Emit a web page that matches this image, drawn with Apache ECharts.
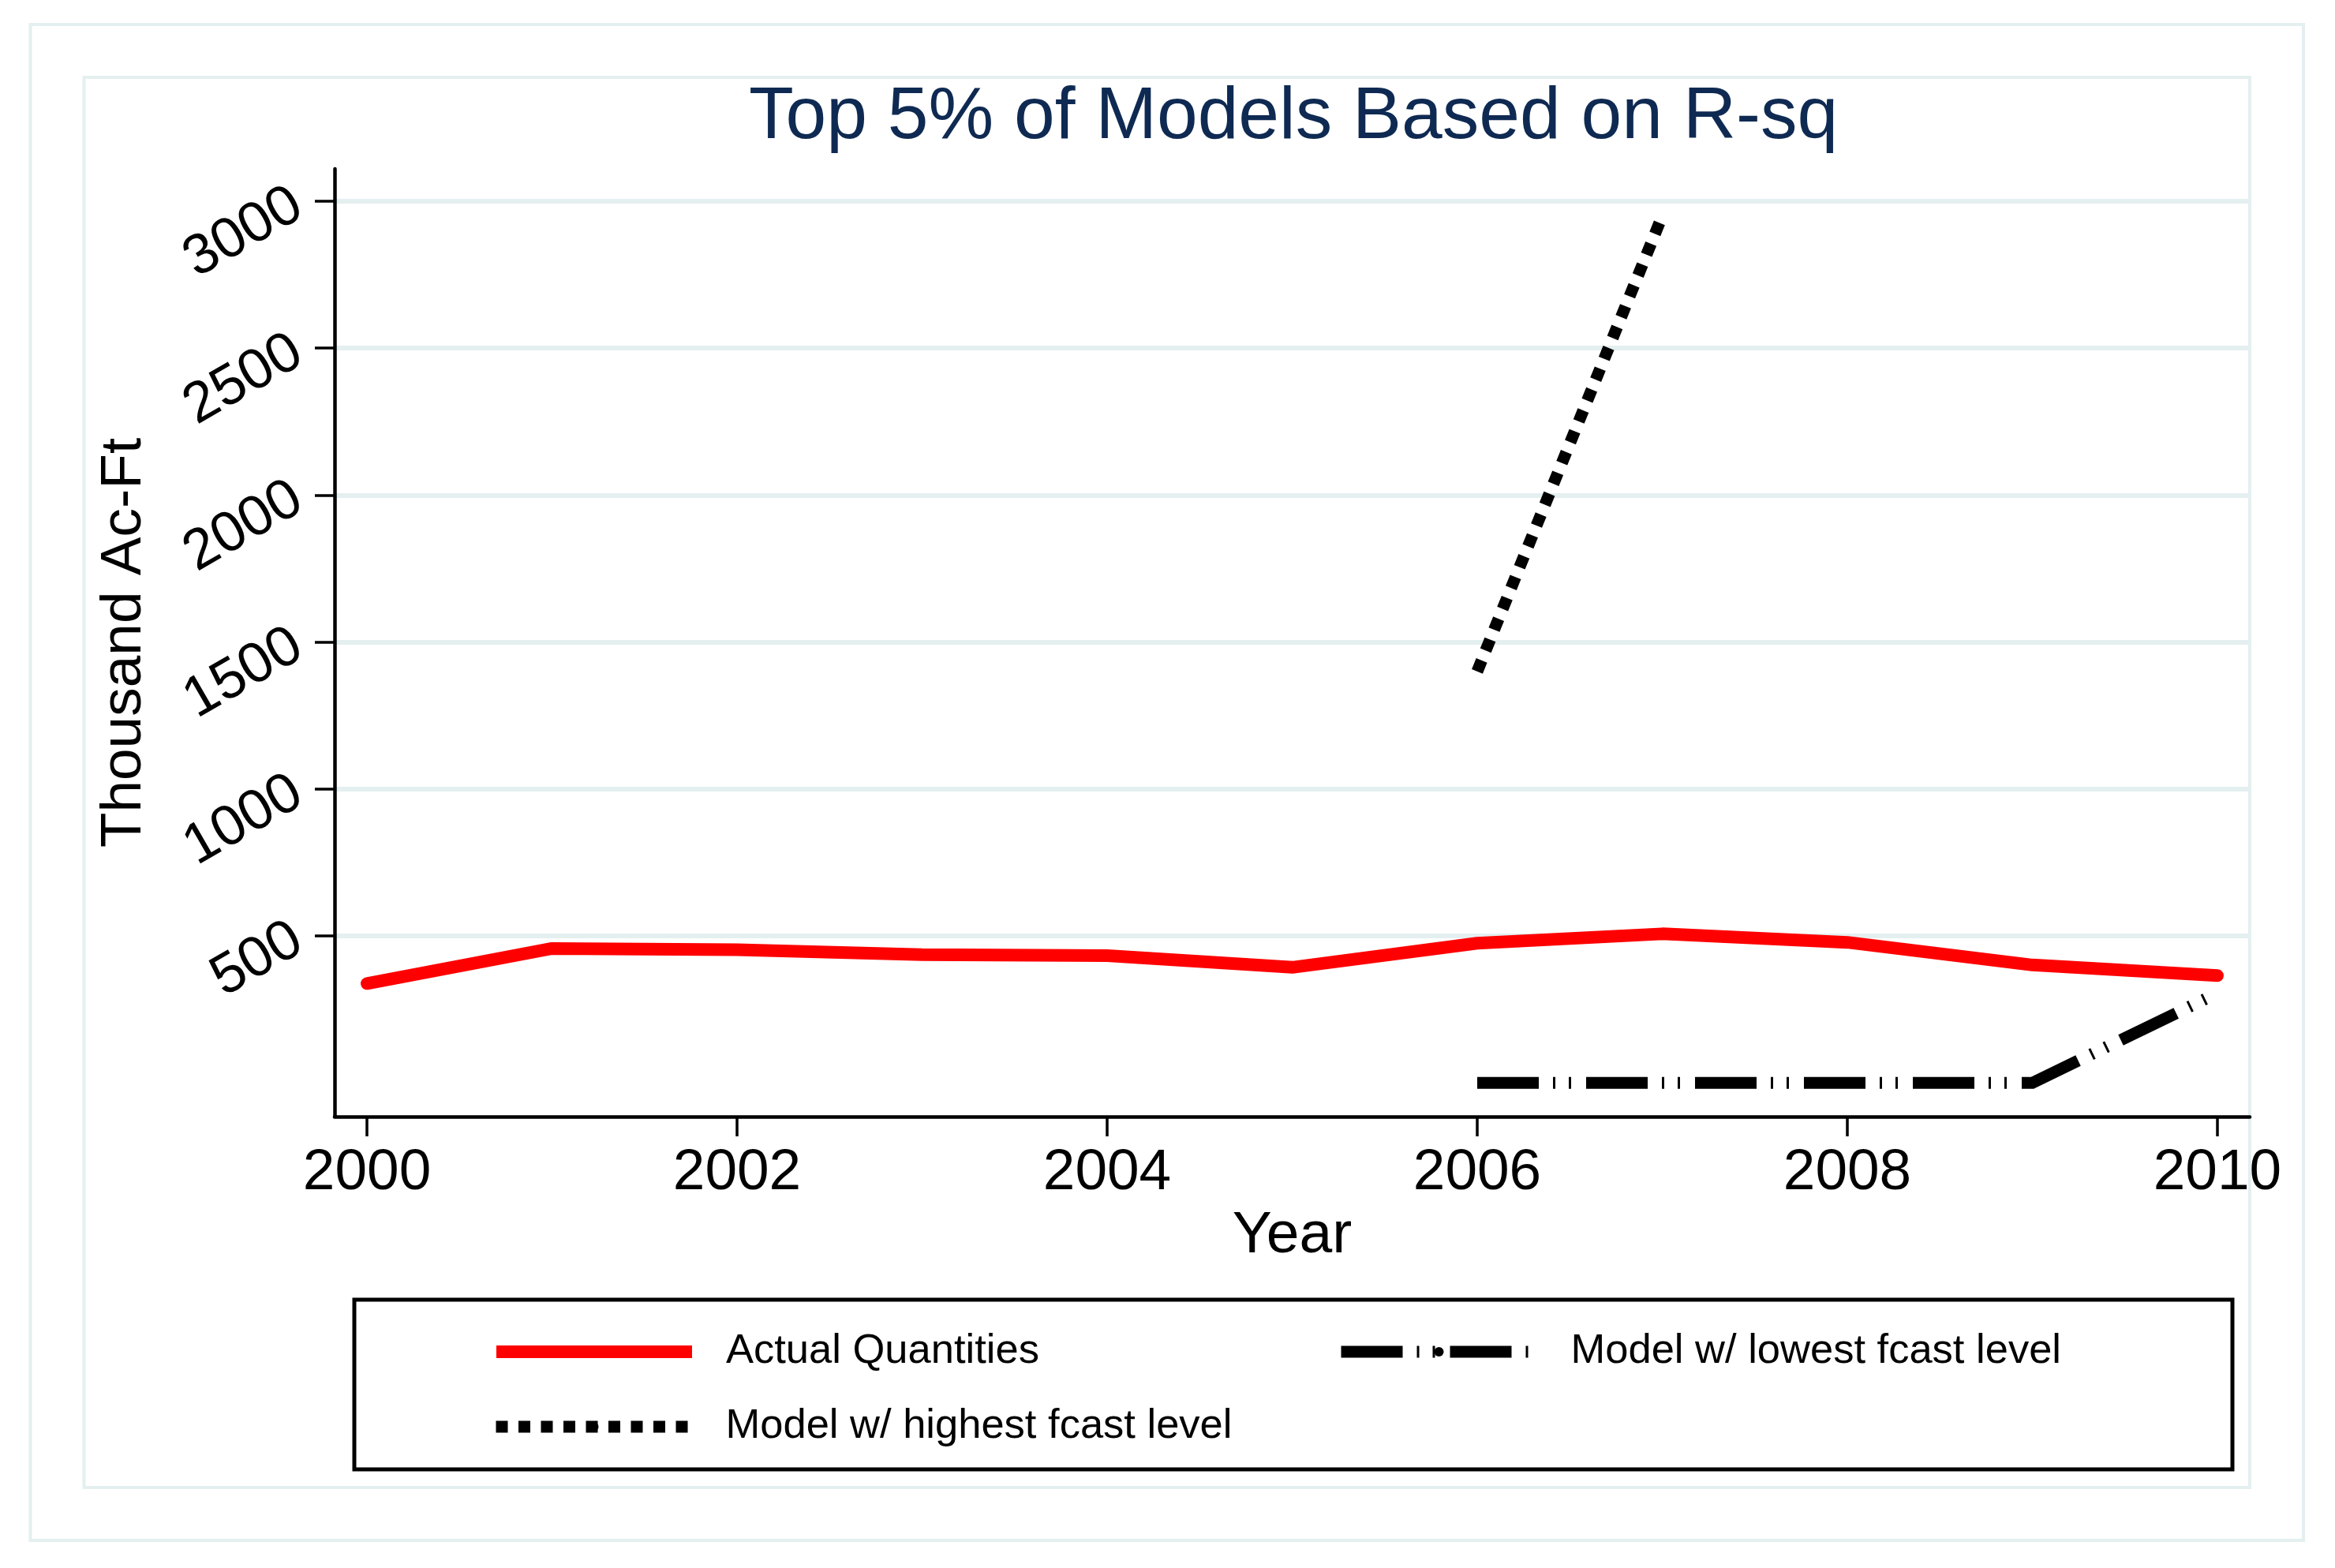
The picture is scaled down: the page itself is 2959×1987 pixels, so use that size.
<!DOCTYPE html>
<html>
<head>
<meta charset="utf-8">
<script src="https://cdn.jsdelivr.net/npm/echarts@6/dist/echarts.min.js"></script>
<style>
html,body{margin:0;padding:0;background:#ffffff;}
#chart{width:2959px;height:1987px;}
</style>
</head>
<body>
<div id="chart"></div>
<script>
// ---- data ----
const years = [2000, 2001, 2002, 2003, 2004, 2005, 2006, 2007, 2008, 2009, 2010];
const actualQuantities = [338, 457, 453, 436, 433, 393, 475, 507, 478, 401, 365];
const lowestYears = [2006, 2007, 2008, 2009, 2010];
const lowestFcast = [0, 0, 0, 0, 305];
const highestYears = [2006, 2007];
const highestFcast = [1400, 2950];
const xTickLabels = [2000, 2002, 2004, 2006, 2008, 2010];
const yTickLabels = [500, 1000, 1500, 2000, 2500, 3000];
const seriesNames = ['Actual Quantities', 'Model w/ lowest fcast level', 'Model w/ highest fcast level'];

// ---- chart ----
const FONT = "'Liberation Sans', Arial, Helvetica, sans-serif";
const FRAME = '#e4eff0';
const chart = echarts.init(document.getElementById('chart'), null, {renderer: 'canvas'});

const pairs = (xs, ys) => xs.map((x, i) => [x, ys[i]]);

const legendCommon = {
  orient: 'horizontal',
  padding: 0,
  itemWidth: 248,
  selectedMode: false,
  textStyle: {fontFamily: FONT, fontSize: 52.5, lineHeight: 60, color: '#000', padding: [0, 0, 0, 38]}
};

const option = {
  backgroundColor: '#ffffff',
  animation: false,
  title: {
    text: 'Top 5% of Models Based on R-sq',
    left: 949,
    top: 103,
    padding: 0,
    textAlign: 'left',
    textStyle: {fontFamily: FONT, fontSize: 93, fontWeight: 'normal', color: '#0f2a52'}
  },
  grid: {left: 424, right: 108, top: 214, bottom: 572, containLabel: false},
  xAxis: {
    type: 'value',
    min: 1999.825,
    max: 2010.175,
    name: 'Year',
    nameLocation: 'middle',
    nameGap: 114,
    nameTextStyle: {fontFamily: FONT, fontSize: 75, color: '#000'},
    axisLine: {show: true, onZero: false, lineStyle: {color: '#000', width: 4.5}},
    axisTick: {show: true, inside: false, length: 25, lineStyle: {color: '#000', width: 3.5}, customValues: xTickLabels},
    axisLabel: {show: true, margin: 35, fontFamily: FONT, fontSize: 73, color: '#000', customValues: xTickLabels, formatter: v => String(v)},
    splitLine: {show: false}
  },
  yAxis: {
    type: 'value',
    min: -115,
    max: 3110,
    name: 'Thousand Ac-Ft',
    nameLocation: 'middle',
    nameRotate: 90,
    nameGap: 230,
    nameTextStyle: {fontFamily: FONT, fontSize: 73, color: '#000'},
    axisLine: {show: true, onZero: false, lineStyle: {color: '#000', width: 4.5}},
    axisTick: {show: true, inside: false, length: 25, lineStyle: {color: '#000', width: 3.5}, customValues: yTickLabels},
    axisLabel: {show: true, rotate: 30, margin: 46, fontFamily: FONT, fontSize: 72, color: '#000', customValues: yTickLabels, formatter: v => String(v)},
    splitLine: {show: true, lineStyle: {color: FRAME, width: 6}}
  },
  legend: [
    Object.assign({}, legendCommon, {data: [seriesNames[0]], left: 621, top: 1683, itemHeight: 16, lineStyle: {width: 16, cap: 'butt'}}),
    Object.assign({}, legendCommon, {data: [seriesNames[1]], left: 1692, top: 1683, itemHeight: 15, lineStyle: {width: 15, cap: 'butt'}}),
    Object.assign({}, legendCommon, {data: [seriesNames[2]], left: 621, top: 1778, itemHeight: 15, lineStyle: {width: 15, cap: 'butt'}})
  ],
  graphic: [
    {type: 'rect', silent: true, z: -100, shape: {x: 38.5, y: 31, width: 2880.5, height: 1921}, style: {fill: null, stroke: FRAME, lineWidth: 4}},
    {type: 'rect', silent: true, z: -100, shape: {x: 106.5, y: 98, width: 2744.5, height: 1787}, style: {fill: null, stroke: FRAME, lineWidth: 4}},
    {type: 'rect', silent: true, z: 10, shape: {x: 449, y: 1647, width: 2380, height: 215}, style: {fill: null, stroke: '#000', lineWidth: 5}}
  ],
  series: [
    {
      name: seriesNames[0], type: 'line', data: pairs(years, actualQuantities),
      symbol: 'none', smooth: false, z: 3,
      color: '#ff0000',
      lineStyle: {color: '#ff0000', width: 16, cap: 'round', join: 'round'}
    },
    {
      name: seriesNames[1], type: 'line', data: pairs(lowestYears, lowestFcast),
      symbol: 'none', smooth: false, z: 2,
      color: '#000000',
      lineStyle: {color: '#000000', width: 15, type: [78, 18, 3, 17, 3, 19], cap: 'butt', join: 'miter'}
    },
    {
      name: seriesNames[2], type: 'line', data: pairs(highestYears, highestFcast),
      symbol: 'none', smooth: false, z: 2,
      color: '#000000',
      lineStyle: {color: '#000000', width: 15, type: [15, 13.5], cap: 'butt'}
    }
  ]
};
chart.setOption(option);
</script>
</body>
</html>
